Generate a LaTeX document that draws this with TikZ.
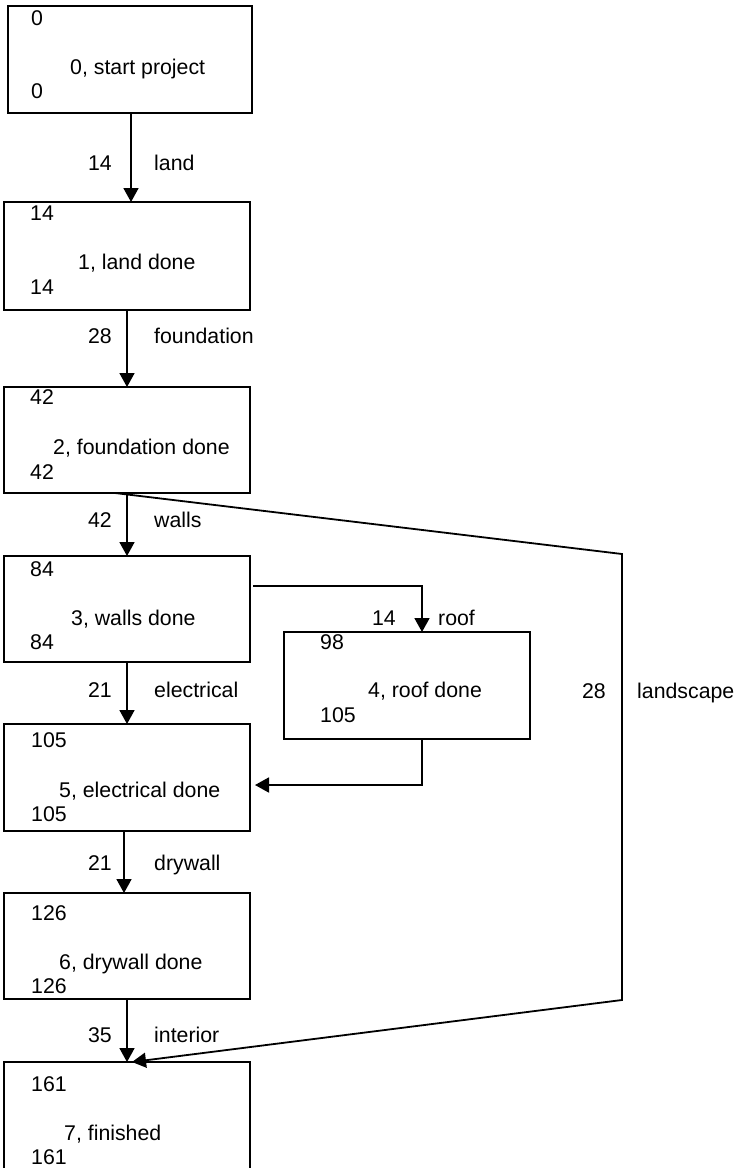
\documentclass[tikz,border=0pt]{standalone}
\usepackage{fontspec}
\setmainfont{Liberation Sans}
\usetikzlibrary{arrows.meta}
\begin{document}
\begin{tikzpicture}[x=1pt,y=-1pt,
  box/.style={draw, line width=1.8pt, rectangle, inner sep=0pt, outer sep=0pt,
              anchor=north west, minimum width=246pt},
  txt/.style={inner sep=0pt, anchor=base west, font=\fontsize{21.3}{24.5}\selectfont},
  lblR/.style={txt, anchor=base east},
  wire/.style={line width=1.8pt},
  arr/.style={wire, -{Triangle[length=14pt,width=15pt]}}]
\clip (0,0) rectangle (737,1168);
\fill[white] (0,0) rectangle (737,1168);

% milestone boxes
\node[box, minimum width=244pt, minimum height=107pt] (b0) at (8,6) {};
\node[box, minimum height=108pt] (b1) at (4,202) {};
\node[box, minimum height=106pt] (b2) at (4,387) {};
\node[box, minimum height=106pt] (b3) at (4,556) {};
\node[box, minimum height=107pt] (b4) at (284,632) {};
\node[box, minimum height=107pt] (b5) at (4,724) {};
\node[box, minimum height=106pt] (b6) at (4,893) {};
\node[box, minimum height=108pt] (b7) at (4,1062) {};

% box texts: early time, name, late time
\node[txt] (b0e) at (31,25) {0};
\node[txt] (b0n) at (70,74.5) {0, start project};
\node[txt] (b0l) at (31,98) {0};

\node[txt] (b1e) at (30,220.5) {14};
\node[txt] (b1n) at (78,269.5) {1, land done};
\node[txt] (b1l) at (30,294.5) {14};

\node[txt] (b2e) at (30,404.5) {42};
\node[txt] (b2n) at (53,454.5) {2, foundation done};
\node[txt] (b2l) at (30,479.5) {42};

\node[txt] (b3e) at (30,576.5) {84};
\node[txt] (b3n) at (71,625.5) {3, walls done};
\node[txt] (b3l) at (30,649.5) {84};

\node[txt] (b4e) at (320,649.5) {98};
\node[txt] (b4n) at (368,697.5) {4, roof done};
\node[txt] (b4l) at (320,722.5) {105};

\node[txt] (b5e) at (31,747.5) {105};
\node[txt] (b5n) at (59,797.5) {5, electrical done};
\node[txt] (b5l) at (31,821.5) {105};

\node[txt] (b6e) at (31,920) {126};
\node[txt] (b6n) at (59,969.5) {6, drywall done};
\node[txt] (b6l) at (31,993.5) {126};

\node[txt] (b7e) at (31,1091.5) {161};
\node[txt] (b7n) at (64,1140.5) {7, finished};
\node[txt] (b7l) at (31,1164.5) {161};

% helper coordinates for connector columns and bends
\coordinate (k0) at (131,0);
\coordinate (k1) at (127,0);
\coordinate (k2) at (124,0);
\coordinate (r0) at (253,586);
\coordinate (r1) at (422,586);
\coordinate (r2) at (422,785);
\coordinate (r3) at (255,785);
\coordinate (l0) at (115,0);
\coordinate (l1) at (622,554);
\coordinate (l2) at (622,1000);
\coordinate (l3) at (132,0);

% activity connectors
\draw[arr] (b0.south -| k0) -- (b1.north -| k0);
\draw[arr] (b1.south -| k1) -- (b2.north -| k1);
\draw[arr] (b2.south -| k1) -- (b3.north -| k1);
\draw[arr] (b3.south -| k1) -- (b5.north -| k1);
\draw[arr] (b5.south -| k2) -- (b6.north -| k2);
\draw[arr] (b6.south -| k1) -- (b7.north -| k1);
\draw[arr] (r0) -- (r1) -- (b4.north -| r1);
\draw[arr] (b4.south -| r2) -- (r2) -- (r3);
\draw[arr] (b2.south -| l0) -- (l1) -- (l2) -- (b7.north -| l3);

% activity labels: duration, name
\node[lblR] (d1) at (112,170.5) {14};
\node[txt]  (a1) at (154,170.5) {land};
\node[lblR] (d2) at (112,343.5) {28};
\node[txt]  (a2) at (154,343.5) {foundation};
\node[lblR] (d3) at (112,527.5) {42};
\node[txt]  (a3) at (154,527.5) {walls};
\node[lblR] (d4) at (396,625.5) {14};
\node[txt]  (a4) at (438,625.5) {roof};
\node[lblR] (d5) at (112,697.5) {21};
\node[txt]  (a5) at (154,697.5) {electrical};
\node[lblR] (d6) at (606,698.5) {28};
\node[txt]  (a6) at (637,698.5) {landscape};
\node[lblR] (d7) at (112,870.5) {21};
\node[txt]  (a7) at (154,870.5) {drywall};
\node[lblR] (d8) at (112,1042.5) {35};
\node[txt]  (a8) at (154,1042.5) {interior};
\end{tikzpicture}
\end{document}
